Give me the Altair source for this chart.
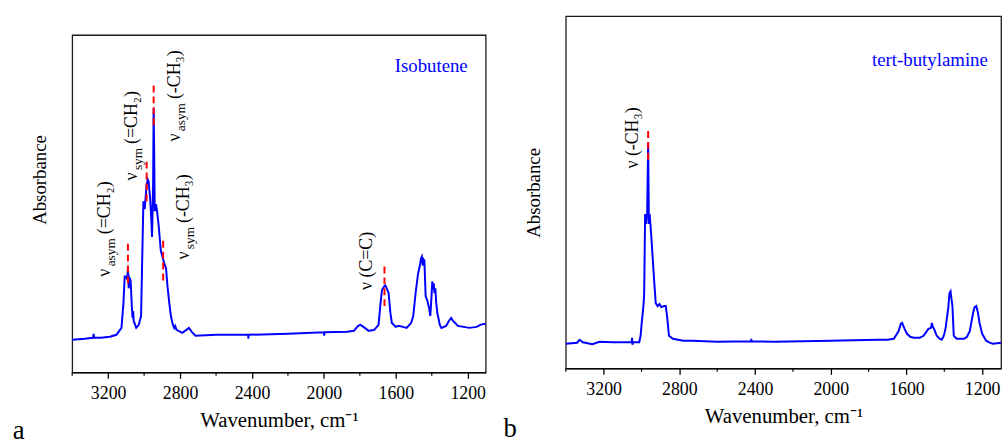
import altair as alt
import pandas as pd

FONT = "Liberation Serif"
BLUE = "#0000FF"

# ---------------- data: isobutene (panel a) ----------------
iso_wn = [
    3400, 3330, 3284, 3281, 3278, 3240, 3191, 3154, 3126, 3115,
    3108, 3100, 3094, 3090, 3086, 3080, 3075, 3068, 3064, 3061,
    3058, 3044, 3030, 3017, 3010, 3004, 2997, 2986, 2980, 2975,
    2967, 2960, 2956, 2950, 2947, 2944, 2941, 2934, 2928, 2920,
    2907, 2888, 2878, 2870, 2860, 2851, 2840, 2833, 2827, 2820,
    2787, 2765, 2751, 2735, 2714, 2600, 2421, 2420, 2419, 2200,
    1999, 1998, 1997, 1870, 1833, 1810, 1797, 1780, 1751, 1720,
    1696, 1685, 1677, 1665, 1659, 1650, 1640, 1630, 1622, 1600,
    1585, 1560, 1540, 1515, 1503, 1490, 1476, 1466, 1460, 1455,
    1450, 1445, 1441, 1434, 1425, 1415, 1408, 1402, 1397, 1393,
    1389, 1385, 1380, 1375, 1369, 1355, 1347, 1320, 1305, 1292,
    1282, 1270, 1255, 1191, 1150, 1130, 1109, 1100,
]
iso_abs = [
    0.33, 0.34, 0.35, 0.39, 0.35, 0.35, 0.36, 0.38, 0.45, 0.70,
    0.97, 0.97, 0.94, 1.07, 0.85, 0.95, 0.93, 0.65, 0.55, 0.62,
    0.52, 0.45, 0.48, 0.57, 1.20, 1.73, 1.65, 1.90, 1.95, 1.93,
    1.77, 1.55, 1.37, 1.90, 2.67, 2.20, 1.63, 1.70, 1.63, 1.50,
    1.23, 1.10, 1.05, 0.87, 0.70, 0.57, 0.48, 0.45, 0.47, 0.43,
    0.40, 0.43, 0.45, 0.41, 0.37, 0.38, 0.38, 0.34, 0.38, 0.39,
    0.405, 0.37, 0.405, 0.41, 0.42, 0.47, 0.48, 0.46, 0.42, 0.43,
    0.48, 0.70, 0.83, 0.87, 0.88, 0.85, 0.80, 0.60, 0.50, 0.46,
    0.47, 0.46, 0.45, 0.50, 0.57, 0.80, 1.00, 1.08, 1.15, 1.17,
    1.08, 1.14, 1.13, 0.77, 0.73, 0.65, 0.57, 0.75, 0.92, 0.84,
    0.90, 0.80, 0.85, 0.70, 0.60, 0.48, 0.45, 0.47, 0.52, 0.55,
    0.52, 0.50, 0.47, 0.45, 0.46, 0.48, 0.49, 0.49,
]

# ---------------- data: tert-butylamine (panel b) ----------------
tba_wn = [
    3400, 3340, 3327, 3310, 3260, 3222, 3150, 3052, 3050, 3048,
    3045, 3012, 3005, 2998, 2990, 2986, 2981, 2975, 2970, 2965,
    2961, 2957, 2950, 2942, 2933, 2925, 2915, 2905, 2895, 2880,
    2872, 2865, 2855, 2834, 2780, 2733, 2600, 2421, 2420, 2419,
    2300, 2000, 1754, 1700, 1667, 1650, 1641, 1630, 1623, 1610,
    1597, 1580, 1562, 1530, 1510, 1495, 1484, 1470, 1466, 1460,
    1454, 1440, 1425, 1414, 1405, 1400, 1393, 1385, 1379, 1373,
    1367, 1362, 1357, 1350, 1335, 1318, 1295, 1280, 1265, 1248,
    1240, 1231, 1222, 1214, 1200, 1179, 1160, 1144, 1120, 1100,
]
tba_abs = [
    0.25, 0.26, 0.29, 0.265, 0.245, 0.27, 0.265, 0.265, 0.31, 0.24,
    0.265, 0.265, 0.33, 0.48, 0.63, 0.75, 1.56, 1.46, 1.58, 2.28,
    1.46, 1.56, 1.38, 1.15, 0.88, 0.66, 0.63, 0.65, 0.62, 0.63,
    0.63, 0.53, 0.33, 0.30, 0.28, 0.28, 0.27, 0.275, 0.30, 0.275,
    0.27, 0.28, 0.29, 0.29, 0.30, 0.35, 0.38, 0.45, 0.46, 0.40,
    0.35, 0.32, 0.31, 0.31, 0.33, 0.37, 0.40, 0.41, 0.46, 0.42,
    0.40, 0.33, 0.30, 0.29, 0.32, 0.35, 0.41, 0.53, 0.61, 0.76,
    0.78, 0.70, 0.63, 0.33, 0.30, 0.30, 0.30, 0.32, 0.38, 0.56,
    0.62, 0.63, 0.56, 0.46, 0.35, 0.28, 0.26, 0.25, 0.255, 0.26,
]

# axis ticks
major_ticks = [3200, 2800, 2400, 2000, 1600, 1200]
minor_ticks = [3400, 3000, 2600, 2200, 1800, 1400]

# red dashed peak markers
iso_peak_wn = [3090, 2986, 2947, 2894, 1663]
iso_peak_lo = [0.90, 1.73, 2.50, 0.93, 0.67]
iso_peak_hi = [1.33, 2.15, 2.93, 1.37, 1.10]
tba_peak_wn = [2965]
tba_peak_lo = [2.11]
tba_peak_hi = [2.40]

# vibration labels (rotated)
iso_lab_wn = [3191, 3042, 2800, 2751]
iso_lab_a = [0.967, 1.94, 2.333, 1.14]
iso_lab_sub = ["asym", "sym", "asym", "sym"]
iso_lab_rest = ["(=CH₂)", "(=CH₂)", "(-CH₃)", "(-CH₃)"]
iso_plain_wn = [1732]
iso_plain_a = [0.833]
iso_plain_text = ["ν (C=C)"]
tba_plain_wn = [3020]
tba_plain_a = [2.02]
tba_plain_text = ["ν (-CH₃)"]

# compound names
iso_name = ["Isobutene"]
iso_name_wn = [1200]
iso_name_a = [3.04]
tba_name = ["tert-butylamine"]
tba_name_wn = [1170]
tba_name_a = [3.06]

LAB_SIZE = 18
SUB_SIZE = 13.5
SUB_DX = 10.5
SUB_DY = 5
REST_DX = {"asym": 43, "sym": 37}


def build_panel(wn, ab, ymax, width, height, peaks, labels, plain, name,
                letter, letter_x, letter_y, title_y=None):
    x_scale = alt.Scale(domain=[1100, 3400], reverse=True, nice=False, zero=False)
    x_axis = alt.Axis(values=major_ticks, format="d", tickSize=6, labelPadding=6.5,
                      labelFontSize=18, title="Wavenumber, cm⁻¹", titleFontSize=21,
                      titlePadding=7, grid=False)
    y_scale = alt.Scale(domain=[0, ymax], nice=False, zero=False)
    y_kwargs = dict(labels=False, ticks=False, domain=False, grid=False,
                    title="Absorbance", titleFontSize=19, titlePadding=23)
    if title_y is not None:
        y_kwargs["titleY"] = title_y
    y_axis = alt.Axis(**y_kwargs)

    X = lambda f: alt.X(f"{f}:Q", scale=x_scale, axis=x_axis)
    Y = lambda f: alt.Y(f"{f}:Q", scale=y_scale, axis=y_axis)

    df = pd.DataFrame({"wn": wn, "a": ab})
    line = alt.Chart(df).mark_line(color=BLUE, strokeWidth=2).encode(x=X("wn"), y=Y("a"))

    minor_df = pd.DataFrame({"wn": minor_ticks})
    minor = alt.Chart(minor_df).mark_rule(color="black", strokeWidth=1.2).encode(
        x=X("wn"), y=alt.value(height), y2=alt.value(height + 3.3))

    pk_df = pd.DataFrame({"wn": peaks[0], "lo": peaks[1], "hi": peaks[2]})
    pk = alt.Chart(pk_df).mark_rule(color="#FF0000", strokeWidth=2, strokeDash=[7, 4]).encode(
        x=X("wn"), y=Y("lo"), y2=alt.Y2("hi:Q"))

    layers = [line, minor]

    txt = dict(angle=270, align="left", baseline="alphabetic", font=FONT, color="black")
    if labels is not None:
        lab_df = pd.DataFrame({"wn": labels[0], "a": labels[1], "sub": labels[2], "rest": labels[3]})
        nu = alt.Chart(lab_df).mark_text(fontSize=LAB_SIZE, **txt).encode(
            x=X("wn"), y=Y("a"), text=alt.value("ν"))
        layers.append(nu)
        for s in ["asym", "sym"]:
            sdf = lab_df[lab_df["sub"] == s]
            layers.append(alt.Chart(sdf).mark_text(fontSize=SUB_SIZE, dx=SUB_DX, dy=SUB_DY, **txt).encode(
                x=X("wn"), y=Y("a"), text="sub:N"))
            layers.append(alt.Chart(sdf).mark_text(fontSize=LAB_SIZE, dx=REST_DX[s], **txt).encode(
                x=X("wn"), y=Y("a"), text="rest:N"))

    pl_df = pd.DataFrame({"wn": plain[0], "a": plain[1], "t": plain[2]})
    layers.append(alt.Chart(pl_df).mark_text(fontSize=LAB_SIZE, **txt).encode(
        x=X("wn"), y=Y("a"), text="t:N"))

    nm_df = pd.DataFrame({"wn": name[0], "a": name[1], "t": name[2]})
    layers.append(alt.Chart(nm_df).mark_text(fontSize=19, align="right", baseline="alphabetic",
                                             font=FONT, color=BLUE).encode(
        x=X("wn"), y=Y("a"), text="t:N"))

    layers.append(pk)

    let_df = pd.DataFrame({"t": [letter]})
    layers.append(alt.Chart(let_df).mark_text(fontSize=27, align="left", baseline="alphabetic",
                                              font=FONT, color="black").encode(
        x=alt.value(letter_x), y=alt.value(letter_y), text="t:N"))

    return alt.layer(*layers).properties(width=width, height=height)


left = build_panel(
    iso_wn, iso_abs, 3.41, 418, 341,
    (iso_peak_wn, iso_peak_lo, iso_peak_hi),
    (iso_lab_wn, iso_lab_a, iso_lab_sub, iso_lab_rest),
    (iso_plain_wn, iso_plain_a, iso_plain_text),
    (iso_name_wn, iso_name_a, iso_name),
    "a", -60, 408, title_y=146,
)
right = build_panel(
    tba_wn, tba_abs, 3.56, 440, 356,
    (tba_peak_wn, tba_peak_lo, tba_peak_hi),
    None,
    (tba_plain_wn, tba_plain_a, tba_plain_text),
    (tba_name_wn, tba_name_a, tba_name),
    "b", -63, 425,
)

# empty strip above panel a, so that its frame starts lower than panel b's
spacer = alt.Chart(pd.DataFrame({"t": [""]})).mark_text(fontSize=1).encode(
    x=alt.value(0), y=alt.value(0), text="t:N"
).properties(width=20, height=17, view=alt.ViewBackground(stroke="transparent"))

left_col = alt.vconcat(spacer, left, spacing=0)

chart = alt.hconcat(left_col, right, spacing=12).properties(
    padding={"left": 12, "top": 12, "right": 2, "bottom": 2},
    background="white",
).configure_view(
    stroke="#1a1a1a", strokeWidth=1.3,
).configure_axis(
    labelFont=FONT, titleFont=FONT, labelColor="black", titleColor="black",
    domainColor="black", tickColor="black", domainWidth=1.3, tickWidth=1.3,
    titleFontWeight="normal",
)

chart.save("out.html", embed_options={"renderer": "svg", "actions": False})
